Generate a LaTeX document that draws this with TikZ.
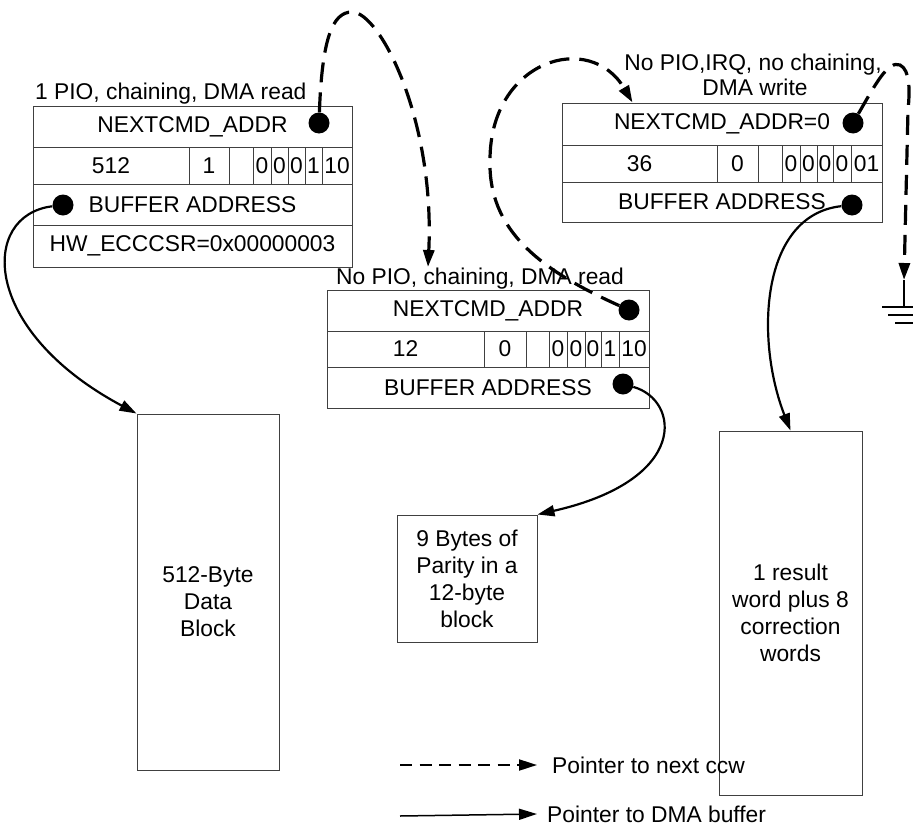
\documentclass[tikz,border=0pt]{standalone}
\usepackage{fontspec}
\setmainfont{Liberation Sans}
\usetikzlibrary{arrows.meta}
\newcommand{\cellnode}[6]{%
  \pgfmathsetmacro{\cellW}{#4-#2}%
  \pgfmathsetmacro{\cellH}{#5-#3}%
  \node[cellbox, minimum width=\cellW pt, minimum height=\cellH pt] (#1) at ({(#2+#4)/2},{(#3+#5)/2}) {#6};}
\begin{document}
\begin{tikzpicture}[x=1pt,y=-1pt,
  every node/.style={font=\fontsize{22.8}{27}\selectfont},
  cellbox/.style={draw=black!75, line width=1pt, inner sep=0pt, align=center},
  blocktext/.style={inner sep=0pt, align=center},
  ptrdot/.style={circle, fill=black, minimum size=21pt, inner sep=0pt},
  lbl/.style={inner sep=0pt, anchor=base},
  nextptr/.style={line width=3.2pt, dash pattern=on 20pt off 10pt, -{Triangle[length=17pt,width=11pt]}},
  bufptr/.style={line width=2.2pt, -{Triangle[length=17pt,width=11pt]}}]
\useasboundingbox (0,0) rectangle (913,827);

% ---------- box 1 ----------
\node[lbl, anchor=base west] (lab1) at (35,99) {1 PIO, chaining, DMA read};
\cellnode{b1r1}{33}{106}{352}{147}{NEXTCMD\_ADDR}
\cellnode{b1c1}{33}{147}{189}{184}{512}
\cellnode{b1c2}{189}{147}{229}{184}{1}
\cellnode{b1c3}{229}{147}{253}{184}{}
\cellnode{b1c4}{253}{147}{271}{184}{0}
\cellnode{b1c5}{271}{147}{288}{184}{0}
\cellnode{b1c6}{288}{147}{305}{184}{0}
\cellnode{b1c7}{305}{147}{322}{184}{1}
\cellnode{b1c8}{322}{147}{352}{184}{10}
\cellnode{b1r3}{33}{184}{352}{225}{BUFFER ADDRESS}
\cellnode{b1r4}{33}{225}{352}{267}{HW\_ECCCSR=0x00000003}
\node[ptrdot] (d1n) at (319,123) {};
\node[ptrdot] (d1b) at (63,205) {};

% ---------- box 2 ----------
\node[lbl] (lab2) at (480,284) {No PIO, chaining, DMA read};
\cellnode{b2r1}{327}{290}{649}{331}{NEXTCMD\_ADDR}
\cellnode{b2c1}{327}{331}{484}{367}{12}
\cellnode{b2c2}{484}{331}{526}{367}{0}
\cellnode{b2c3}{526}{331}{549}{367}{}
\cellnode{b2c4}{549}{331}{567}{367}{0}
\cellnode{b2c5}{567}{331}{585}{367}{0}
\cellnode{b2c6}{585}{331}{601}{367}{0}
\cellnode{b2c7}{601}{331}{619}{367}{1}
\cellnode{b2c8}{619}{331}{649}{367}{10}
\cellnode{b2r3}{327}{367}{649}{408}{BUFFER ADDRESS}
\node[ptrdot] (d2n) at (629,310) {};
\node[ptrdot] (d2b) at (623,384) {};

% ---------- box 3 ----------
\node[lbl] (lab3a) at (753,70) {No PIO,IRQ, no chaining,};
\node[lbl] (lab3b) at (755,95) {DMA write};
\cellnode{b3r1}{562}{103}{882}{145}{NEXTCMD\_ADDR=0}
\cellnode{b3c1}{562}{145}{717}{182}{36}
\cellnode{b3c2}{717}{145}{758}{182}{0}
\cellnode{b3c3}{758}{145}{782}{182}{}
\cellnode{b3c4}{782}{145}{800}{182}{0}
\cellnode{b3c5}{800}{145}{817}{182}{0}
\cellnode{b3c6}{817}{145}{833}{182}{0}
\cellnode{b3c7}{833}{145}{851}{182}{0}
\cellnode{b3c8}{851}{145}{882}{182}{01}
\cellnode{b3r3}{562}{182}{882}{222}{BUFFER ADDRESS}
\node[ptrdot] (d3n) at (853,123) {};
\node[ptrdot] (d3b) at (852,205) {};

% ---------- data blocks ----------
\cellnode{blk1}{137}{414}{279}{770}{}
\node[blocktext] (blk1t) at (208,602) {512-Byte\\Data\\Block};
\cellnode{blk2}{397}{515}{537}{642}{9 Bytes of\\Parity in a\\12-byte\\block}
\cellnode{blk3}{719}{431}{862}{795}{1 result\\word plus 8\\correction\\words}

% ---------- ground ----------
\coordinate (gnd) at (904,280);
\draw[line width=2pt] (gnd) -- (904,307);
\draw[line width=2.4pt] (882,307) -- (926,307);
\draw[line width=2.4pt] (888,315) -- (920,315);
\draw[line width=2.4pt] (895,323) -- (913,323);

% ---------- pointers to next ccw ----------
\coordinate (t1) at (428,267);
\draw[nextptr] (d1n) .. controls (322,40) and (332,12) .. (352,12)
  .. controls (380,12) and (435,120) .. (t1);
\draw[nextptr] (d2n) .. controls (540,270) and (488,230) .. (490,160)
  .. controls (490,60) and (590,30) .. ([xshift=71pt]b3r1.north west);
\draw[nextptr] (d3n) .. controls (875,85) and (888,60) .. (900,65)
  .. controls (910,70) and (910,90) .. (908,110) -- (gnd);

% ---------- pointers to DMA buffers ----------
\draw[bufptr] (d1b) .. controls (-20,215) and (-20,330) .. (blk1.north west);
\draw[bufptr] (d2b) .. controls (680,400) and (690,480) .. (blk2.north east);
\draw[bufptr] (d3b) .. controls (760,215) and (755,340) .. (blk3.north);

% ---------- legend ----------
\node[inner sep=0pt, anchor=west] (lt1) at (552,765) {Pointer to next ccw};
\node[inner sep=0pt, anchor=west] (lt2) at (547,814) {Pointer to DMA buffer};
\coordinate (ls1) at (400,765);
\coordinate (ls2) at (400,816);
\draw[line width=2pt, dash pattern=on 12pt off 7.5pt, -{Triangle[length=18pt,width=11pt]}] (ls1) -- ([xshift=-15pt]lt1.west);
\draw[line width=1.5pt, -{Triangle[length=18pt,width=11pt]}] (ls2) -- ([xshift=-10pt]lt2.west);
\end{tikzpicture}
\end{document}
